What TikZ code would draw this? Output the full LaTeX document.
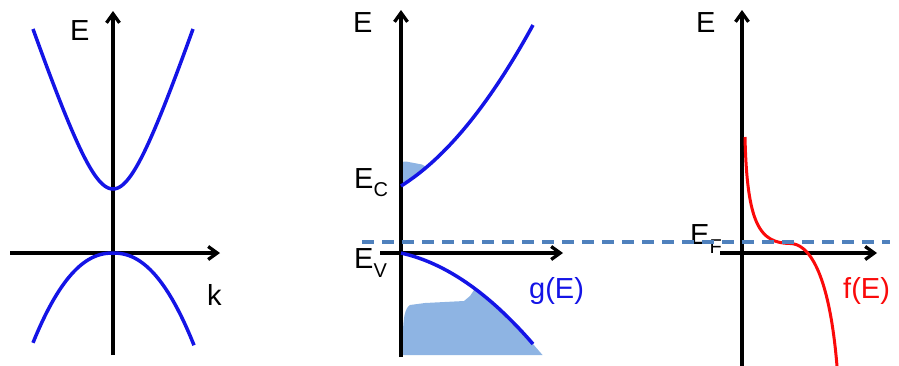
\documentclass[tikz,border=0pt]{standalone}
\usepackage{fontspec}
\setmainfont{Liberation Sans}
\usetikzlibrary{arrows.meta}
\definecolor{bandblue}{RGB}{20,20,230}
\definecolor{fillblue}{RGB}{142,180,227}
\definecolor{dashblue}{RGB}{79,129,189}
\definecolor{fermired}{RGB}{250,10,10}
\begin{document}
\begin{tikzpicture}[x=1pt,y=-1pt,
  axis/.style={line width=3.3pt, -{Straight Barb[length=9pt,width=13pt]}},
  band/.style={bandblue, line width=3.5pt},
  lbl/.style={font=\fontsize{29}{29}\selectfont, inner sep=0pt, anchor=base west}]
\useasboundingbox (0,0) rectangle (899,365);
% ---------- fills ----------
\begin{scope}
  \clip (401,186) .. controls (445.7,158.1) and (489.3,104.7) .. (533,25) -- (401,25) -- cycle;
  \fill[fillblue] (401,190) -- (401,162) -- (406,161.5) -- (414,163) -- (422,164.5) -- (428,168) -- (440,180) -- (440,190) -- cycle;
\end{scope}
\begin{scope}
  \clip (401,253) .. controls (445,262.7) and (489,293) .. (533,344) -- (546,359) -- (395,359) -- cycle;
  \fill[fillblue] (403,355) -- (403,335) .. controls (403,318) and (405,308) .. (410,305) -- (425,303) -- (464,301) -- (470,296) -- (474,290) -- (560,290) -- (560,355) -- cycle;
\end{scope}
% ---------- axes ----------
\coordinate (lb) at (113,355); \coordinate (lt) at (113,11);
\coordinate (ll) at (10,253);  \coordinate (lr) at (220,253);
\coordinate (mb) at (401,357); \coordinate (mt) at (401,10);
\coordinate (ml) at (380,253); \coordinate (mr) at (563,253);
\coordinate (rb) at (742,366); \coordinate (rt) at (742,10);
\coordinate (rl) at (720,253); \coordinate (rr) at (877,253);
\draw[axis] (lb) -- (lt);
\draw[axis] (ll) -- (lr);
\draw[axis] (mb) -- (mt);
\draw[axis] (ml) -- (mr);
\draw[axis] (rb) -- (rt);
\draw[axis] (rl) -- (rr);
% ---------- curves ----------
\draw[band] plot[domain=-80:80, samples=81, smooth] ({113+\x}, {289 - 10*sqrt(100+0.09*\x*\x)});
\draw[band] plot[domain=-80:81, samples=82, smooth] ({113+\x}, {253+0.9256*((abs(\x)+0.01)/10)^2.2});
\draw[band] (401,186) .. controls (445.7,158.1) and (489.3,104.7) .. (533,25);
\draw[band] (401,253) .. controls (445,262.7) and (489,293) .. (533,344);
\draw[fermired, line width=3pt] (745,137) .. controls (747,225) and (760,243) .. (790,243.5)
   .. controls (808,243.5) and (829,270) .. (837,366);
% ---------- labels ----------
\node[lbl] (Eleft) at (70,40) {E};
\node[lbl] (k) at (207,305) {k};
\node[lbl] (Emid) at (353,32) {E};
\node[lbl] (Eright) at (696,32) {E};
\node[lbl] (EC) at (354,188) {E\raisebox{-8pt}{\fontsize{20}{20}\selectfont C}};
\node[lbl] (EV) at (354,268) {E\raisebox{-9pt}{\fontsize{20}{20}\selectfont V}};
\node[lbl] (EF) at (690,244) {E\raisebox{-9pt}{\fontsize{20}{20}\selectfont F}};
\node[lbl, text=bandblue] (gE) at (529,298) {g(E)};
\node[lbl, text=fermired] (fE) at (843,298) {f(E)};
% ---------- Fermi level ----------
\draw[dashblue, line width=3.3pt, dash pattern=on 12pt off 8pt] (362,242) -- (890,242);
\end{tikzpicture}
\end{document}
